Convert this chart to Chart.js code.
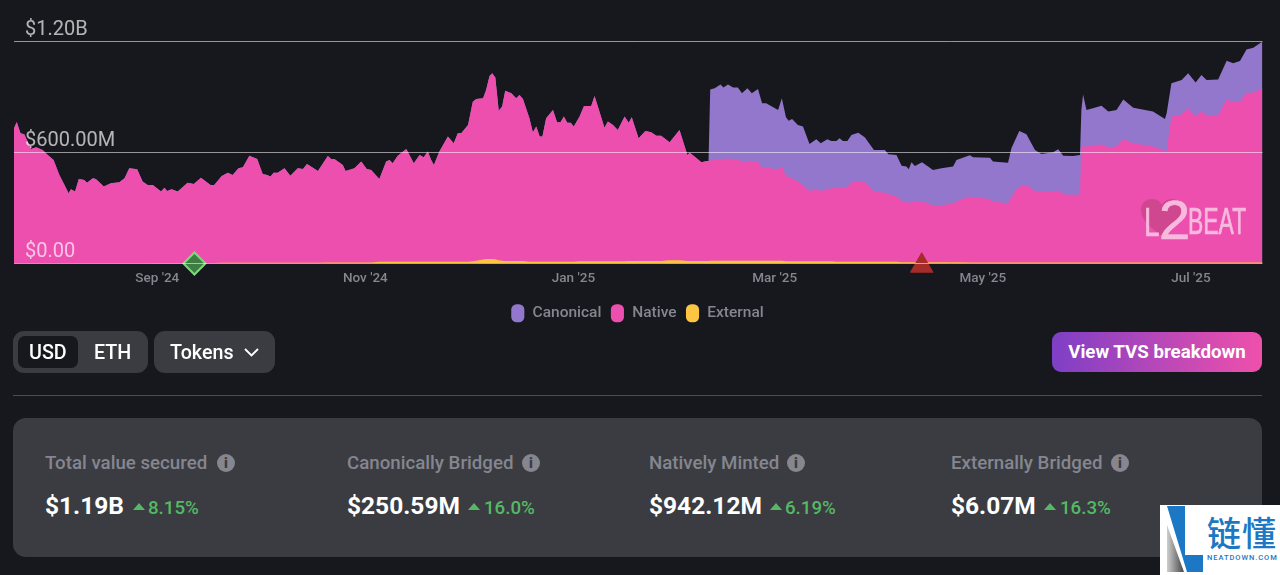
<!DOCTYPE html>
<html>
<head>
<meta charset="utf-8">
<title>TVS chart</title>
<script src="https://cdn.jsdelivr.net/npm/chart.js"></script>
<style>
    html, body { margin: 0; padding: 0; background: #17181e; overflow: hidden; }
    body { width: 1280px; height: 575px; position: relative; font-family: Roboto, sans-serif; }
    #chartWrap { position: absolute; left: 0; top: 0; width: 1280px; height: 335px; }
    .abs { position: absolute; white-space: nowrap; }
    .box { position: absolute; background: #3a3c42; border-radius: 11px; }
    .btnText { position: absolute; color: #fff; font-size: 19.7px; font-weight: 500; line-height: 22px; white-space: nowrap; }
    .statLabel { position: absolute; top: 452px; color: #85868f; font-size: 18.7px; font-weight: 500; line-height: 22px; white-space: nowrap; }
    .statValue { position: absolute; top: 491px; color: #fff; font-size: 24.5px; font-weight: 700; line-height: 30px; white-space: nowrap; }
    .statPct { position: absolute; top: 497px; color: #56b864; font-size: 18.7px; font-weight: 500; line-height: 22px; white-space: nowrap; }
    .up { position: absolute; top: 503px; width: 0; height: 0; border-left: 6px solid transparent; border-right: 6px solid transparent; border-bottom: 7px solid #56b864; }
    .info { position: absolute; top: 454px; width: 18px; height: 18px; border-radius: 50%; background: #85868f; color: #3a3c42; font-size: 14px; font-weight: 900; line-height: 18px; text-align: center; }
    .mark { position: absolute; white-space: nowrap; color: #f8b9df; -webkit-text-stroke: .7px #f8b9df; font-family: 'Liberation Sans Narrow', 'Liberation Sans'; transform-origin: left top; }
</style>
</head>
<body>
<div id="chartWrap"><canvas id="tvsChart"></canvas></div>

<!-- L2BEAT watermark -->
<svg class="abs" style="left:1138px;top:196px" width="50" height="42" viewBox="0 0 50 42">
    <path d="M24 40 C12 31 3 24 3 14 C3 7 8 3 14 3 C18 3 22 5 24 9 C26 5 30 3 34 3 C40 3 45 7 45 14 C45 24 36 31 24 40 Z" fill="#cf478f"/>
</svg>
<div class="mark" style="left:1144px;top:202px;font-size:40px;line-height:40px;transform:scaleX(.7)">L</div>
<div class="mark" style="left:1159px;top:192px;font-size:56px;line-height:56px">2</div>
<div class="mark" style="left:1188px;top:203px;font-size:37px;line-height:37px;transform:scaleX(.62)">BEAT</div>

<!-- controls -->
<div class="box" style="left:13px;top:331px;width:135px;height:42px"></div>
<div class="abs" style="left:18px;top:336px;width:60px;height:32px;background:#17181e;border-radius:7px"></div>
<div class="btnText" style="left:29px;top:342px">USD</div>
<div class="btnText" style="left:94px;top:342px">ETH</div>
<div class="box" style="left:154px;top:331px;width:121px;height:42px"></div>
<div class="btnText" style="left:170px;top:342px">Tokens</div>
<svg class="abs" style="left:243px;top:347px" width="17" height="11" viewBox="0 0 17 11">
    <path d="M2 2 L8.5 8.5 L15 2" fill="none" stroke="#fff" stroke-width="1.8"/>
</svg>
<div class="abs" style="left:1052px;top:332px;width:210px;height:40px;border-radius:9px;background:linear-gradient(90deg,#7e3fc6,#ef50ab);color:#fff;font-size:18.7px;font-weight:700;line-height:40px;text-align:center">View TVS breakdown</div>
<div class="abs" style="left:13px;top:395px;width:1249px;height:1px;background:#4b4c52"></div>

<!-- stats panel -->
<div class="box" style="left:13px;top:418px;width:1249px;height:139px;border-radius:13px"></div>

<div class="statLabel" style="left:45px">Total value secured</div>
<div class="info" style="left:217px">i</div>
<div class="statValue" style="left:45px">$1.19B</div>
<div class="up" style="left:133px"></div>
<div class="statPct" style="left:148px">8.15%</div>

<div class="statLabel" style="left:347px">Canonically Bridged</div>
<div class="info" style="left:522px">i</div>
<div class="statValue" style="left:347px">$250.59M</div>
<div class="up" style="left:468px"></div>
<div class="statPct" style="left:484px">16.0%</div>

<div class="statLabel" style="left:649px">Natively Minted</div>
<div class="info" style="left:787px">i</div>
<div class="statValue" style="left:649px">$942.12M</div>
<div class="up" style="left:770px"></div>
<div class="statPct" style="left:785px">6.19%</div>

<div class="statLabel" style="left:951px">Externally Bridged</div>
<div class="info" style="left:1111px">i</div>
<div class="statValue" style="left:951px">$6.07M</div>
<div class="up" style="left:1044px"></div>
<div class="statPct" style="left:1060px">16.3%</div>

<!-- corner logo -->
<div class="abs" style="left:1160px;top:505px;width:120px;height:70px;background:#fff"></div>
<svg class="abs" style="left:1160px;top:505px" width="46" height="70" viewBox="0 0 46 70">
    <defs><linearGradient id="lg" x1="0" y1="0" x2="1" y2="0"><stop offset="0" stop-color="#cfcfcf"/><stop offset="1" stop-color="#454545"/></linearGradient></defs>
    <path d="M7 1 H25 V50 H43 V67 H27 Z" fill="#1c78c4"/>
    <path d="M7 20 L24 67 H7 Z" fill="url(#lg)"/>
</svg>
<div class="abs" style="left:1207px;top:512px;color:#1c78c4;font:500 34px/40px 'Noto Sans CJK SC';letter-spacing:1px">链懂</div>
<div class="abs" style="left:1207px;top:553px;color:#1c78c4;font:500 7.5px/10px Roboto;letter-spacing:.95px">NEATDOWN.COM</div>

<script>
// days since 21 Jul 2024
const days = [
    0,0.8,1.9,3.0,5.0,6.5,8.4,9.9,11.6,13.3,
    14.8,16.0,16.7,17.9,19.0,20.6,21.4,23.1,24.0,26.3,
    28.4,30.9,32.4,33.8,36.1,37.7,39.2,40.7,43.1,44.1,
    44.9,46.2,48.0,50.9,52.7,54.8,57.6,58.7,60.9,62.7,
    64.1,65.8,67.1,69.0,71.3,72.9,74.2,75.2,76.1,77.3,
    79.3,81.0,83.2,84.7,85.9,89.1,92.0,93.0,93.9,96.4,
    97.2,99.8,101.8,103.4,104.7,107.1,109.1,110.1,111.0,112.5,
    115.0,117.2,118.9,120.1,121.3,122.3,123.1,124.7,127.2,128.9,
    130.1,131.1,133.1,134.5,135.5,137.5,138.4,139.4,140.2,141.1,
    142.1,143.1,144.0,145.8,147.2,148.2,149.2,151.1,152.1,153.1,
    154.1,154.9,156.0,158.0,159.2,160.2,161.2,162.2,163.2,164.1,
    165.8,167.1,169.2,170.2,173.1,174.1,175.6,177.0,179.0,180.2,
    181.1,183.1,185.1,186.8,188.3,189.7,192.2,195.1,197.4,198.1,
    199.5,201.5,203.2,203.6,204.1,205.4,207.1,208.0,209.3,210.8,
    212.2,213.4,215.0,216.3,218.1,219.3,220.5,224.0,225.1,226.3,
    227.1,228.1,229.8,231.3,233.2,235.2,236.5,238.4,239.6,241.1,
    242.0,243.0,244.3,245.5,247.5,249.4,252.1,255.3,256.3,258.7,
    260.2,261.6,262.3,263.1,264.1,266.2,269.4,271.9,275.3,276.3,
    280.2,281.2,286.1,287.0,291.4,292.4,294.7,296.8,299.3,301.2,
    304.6,306.1,307.6,310.5,312.5,312.9,313.4,314.4,317.3,318.8,
    320.8,323.2,325.2,328.1,333.9,337.4,337.9,339.3,342.3,344.2,
    346.4,348.1,349.6,353.0,355.5,357.4,359.4,361.3,363.3,366
];

// all values in $M
const canonical = [
    0,0,0,0,0,0,0,0,0,0,
    0,0,0,0,0,0,0,0,0,0,
    0,0,0,0,0,0,0,0,0,0,
    0,0,0,0,0,0,0,0,0,0,
    0,0,0,0,0,0,0,0,0,0,
    0,0,0,0,0,0,0,0,0,0,
    0,0,0,0,0,0,0,0,0,0,
    0,0,0,0,0,0,0,0,0,0,
    0,0,0,0,0,0,0,0,0,0,
    0,0,0,0,0,0,0,0,0,0,
    0,0,0,0,0,0,0,0,0,0,
    0,0,0,0,0,0,0,0,0,0,
    0,0,0,0,0,0,0,0,0,0,
    0,0,0,0,383,387,405,387,401,387,
    390,371,391,366,392,351,348,321,366,317,
    304,320,306,317,254,270,258,268,257,253,
    267,252,250,258,261,243,225,231,214,225,
    191,191,180,214,192,209,193,200,198,223,
    223,216,223,216,219,261,300,273,222,203,
    210,223,209,210,216,198,282,198,205,209,
    193,198,216,192,189,173,202,180,186,189,
    185,198,193,192,209,211,219,234,243,253
];
const native = [
    729,763,702,696,617,626,612,585,558,477,
    423,378,399,387,455,450,435,459,455,414,
    432,437,459,513,507,441,423,422,386,407,
    389,398,386,434,427,461,422,422,469,487,
    475,511,516,579,561,480,475,466,487,487,
    511,471,511,507,534,496,575,559,559,527,
    494,509,545,505,500,447,541,550,532,573,
    609,532,577,565,596,551,524,596,677,641,
    695,695,740,863,874,871,914,988,1003,983,
    808,833,921,907,880,898,876,775,699,730,
    676,676,775,820,753,753,784,751,751,730,
    782,839,839,893,722,755,737,710,782,747,
    776,663,702,695,677,677,638,705,573,585,
    564,533,540,540,543,545,548,550,552,550,
    547,534,541,539,536,500,503,494,512,461,
    456,449,431,411,380,389,380,391,393,400,
    401,401,403,428,437,430,380,374,367,353,
    331,326,322,326,328,331,306,308,319,330,
    356,352,343,329,320,356,410,419,386,383,
    385,388,368,365,365,626,626,626,633,638,
    622,626,665,644,626,602,604,788,800,833,
    788,815,793,797,881,865,869,917,917,941
];
const external = [
    2,2,2,2,2,2,2,2,2,2,
    2,2,2,2,2,2,2,2,2,2,
    2,2,2,2,2,2,2,3,3,3,
    3,3,3,3,3,3,3,3,4,4,
    4,4,4,4,4,4,4,4,4,4,
    4,4,4,4,4,4,6,6,6,6,
    6,6,6,6,6,10,10,10,10,10,
    10,10,10,9,9,9,9,9,9,9,
    9,9,9,12,15,22,24,25,25,23,
    18,15,13,13,13,13,13,10,10,10,
    10,10,10,10,10,10,10,10,10,10,
    12,12,12,12,12,12,12,12,12,14,
    14,14,14,14,14,14,17,17,14,14,
    14,14,14,14,15,15,15,15,15,15,
    15,15,15,15,15,15,15,15,15,12,
    12,12,12,12,12,12,12,12,12,9,
    9,9,9,9,9,9,9,9,9,9,
    7,7,7,7,7,7,7,7,7,7,
    6,6,6,6,6,6,6,6,6,6,
    6,6,6,6,6,6,6,6,6,6,
    6,6,6,6,6,6,6,6,6,6,
    6,6,6,6,6,6,6,6,6,6
];

const xTickDays = [42, 103, 164, 223, 284, 345];
const xTickLabels = ["Sep '24", "Nov '24", "Jan '25", "Mar '25", "May '25", "Jul '25"];
const yTickValues = [0, 600, 1200];
const yTickLabels = ['$0.00', '$600.00M', '$1.20B'];

// the two event markers sitting on the baseline
const goodEventDay = [52.9];
const badEventDay = [266.1];

function toPoints(values) {
    return days.map((d, i) => ({ x: d, y: values[i] }));
}

function areaSet(label, values, color, order) {
    return {
        label: label,
        data: toPoints(values),
        backgroundColor: color,
        borderColor: color,
        borderWidth: 0,
        fill: 'origin',
        tension: 0,
        pointRadius: 0,
        pointStyle: 'rectRounded',
        stack: 'tvs',
        order: order
    };
}

function eventSet(day, y, style, radius, fillColor, lineColor, lineWidth) {
    return {
        label: 'event',
        data: day.map(d => ({ x: d, y: y })),
        showLine: false,
        fill: false,
        clip: false,
        stack: 'events' + style,
        order: 0,
        pointStyle: style,
        pointRadius: radius,
        backgroundColor: fillColor,
        borderColor: lineColor,
        borderWidth: lineWidth
    };
}

new Chart(document.getElementById('tvsChart'), {
    type: 'line',
    data: {
        datasets: [
            areaSet('External', external, '#fdc542', 1),
            areaSet('Native', native, '#ec4fae', 2),
            areaSet('Canonical', canonical, '#9277cc', 3),
            eventSet(goodEventDay, 0, 'rectRot', 11, '#3f7d45', '#74e070', 2),
            eventSet(badEventDay, -12, 'triangle', 13, '#a52c28', '#a52c28', 1)
        ]
    },
    options: {
        responsive: true,
        maintainAspectRatio: false,
        animation: false,
        events: [],
        layout: { padding: { left: 12, right: 17.5, top: 41.5, bottom: 4 } },
        plugins: {
            tooltip: { enabled: false },
            legend: {
                position: 'bottom',
                reverse: true,
                labels: {
                    usePointStyle: true,
                    boxHeight: 15,
                    pointStyleWidth: 14,
                    padding: 9,
                    color: '#85868f',
                    font: { family: 'Roboto', size: 15.5, weight: '500' },
                    filter: item => item.text !== 'event'
                }
            }
        },
        scales: {
            x: {
                type: 'linear',
                min: 0,
                max: 366,
                afterBuildTicks: axis => {
                    axis.ticks = xTickDays.map(v => ({ value: v }));
                },
                afterFit: axis => { axis.height = 33; },
                grid: { display: false, drawTicks: false },
                border: { display: false },
                ticks: {
                    autoSkip: false,
                    maxRotation: 0,
                    padding: 7.5,
                    color: '#85868f',
                    font: { family: 'Roboto', size: 13.5, weight: '500' },
                    callback: v => xTickLabels[xTickDays.indexOf(v)]
                }
            },
            y: {
                stacked: true,
                min: 0,
                max: 1200,
                afterBuildTicks: axis => {
                    axis.ticks = yTickValues.map(v => ({ value: v }));
                },
                afterFit: axis => { axis.width = 0; },
                grid: { color: 'rgba(255,255,255,0.55)', lineWidth: 1, drawTicks: false, z: 1 },
                border: { display: false },
                ticks: {
                    mirror: true,
                    z: 1,
                    padding: 11,
                    labelOffset: -11.5,
                    color: 'rgba(255,255,255,0.68)',
                    font: { family: 'Roboto', size: 20 },
                    callback: v => yTickLabels[yTickValues.indexOf(v)]
                }
            }
        }
    }
});
</script>
</body>
</html>
